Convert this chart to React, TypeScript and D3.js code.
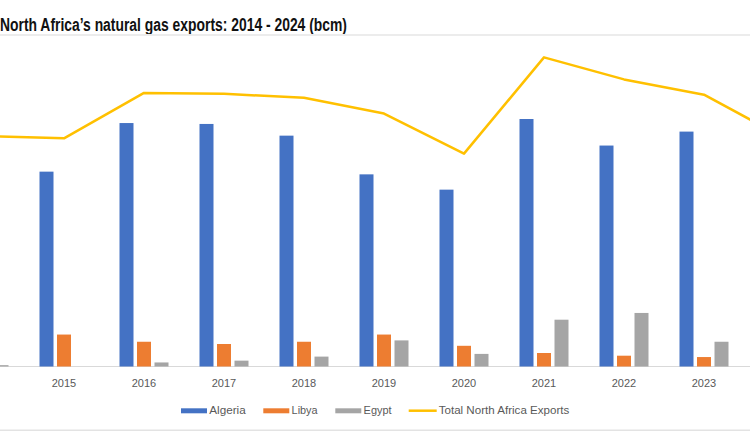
import React from "react";
import * as d3 from "d3";

const years = ["2014", "2015", "2016", "2017", "2018", "2019", "2020", "2021", "2022", "2023", "2024"];
const algeria = [44.4, 43.3, 54.1, 53.9, 51.3, 42.7, 39.3, 55.0, 49.1, 52.2, 46.8];
const libya = [6.5, 7.1, 5.5, 5.0, 5.5, 7.1, 4.6, 3.0, 2.4, 2.1, 1.8];
const egypt = [0.3, 0.0, 0.9, 1.3, 2.2, 5.8, 2.8, 10.4, 11.9, 5.5, 2.2];
const totals = [51.2, 50.7, 60.8, 60.6, 59.7, 56.2, 47.3, 68.7, 63.8, 60.4, 50.8];
const seriesNames = ["Algeria", "Libya", "Egypt"];
const lineName = "Total North Africa Exports";
const title = "North Africa\u2019s natural gas exports: 2014 - 2024 (bcm)";

const W = 750;
const H = 448;
const colors: Record<string, string> = {
  Algeria: "#4472C4",
  Libya: "#ED7D31",
  Egypt: "#A5A5A5",
};
const lineColor = "#FFC000";

export default function App() {
  const x = d3.scaleBand<string>().domain(years).range([-56, -56 + 80 * years.length]).padding(0);
  const xs = d3.scaleBand<string>().domain(seriesNames).range([15.5, 64.5]).paddingInner(0.2).paddingOuter(0);
  const y = d3.scaleLinear().domain([0, 80]).range([366.5, 6.5]);
  const seriesData: Record<string, number[]> = { Algeria: algeria, Libya: libya, Egypt: egypt };

  const line = d3
    .line<number>()
    .x((_, i) => (x(years[i]) as number) + x.bandwidth() / 2)
    .y((d) => y(d));

  const legendItems = [
    { name: "Algeria", x: 181, w: 36.4, kind: "bar" },
    { name: "Libya", x: 263.3, w: 26, kind: "bar" },
    { name: "Egypt", x: 335.3, w: 28, kind: "bar" },
    { name: lineName, x: 408.7, w: 130.6, kind: "line" },
  ];

  return (
    <svg
      width={W}
      height={H}
      style={{ position: "absolute", left: 0, top: 0, background: "#fff", overflow: "hidden" }}
    >
      <rect x={0} y={0} width={W} height={H} fill="#ffffff" />
      <text
        x={0}
        y={31}
        fontFamily="'Liberation Sans', Arial, sans-serif"
        fontWeight="bold"
        fontSize={18}
        fill="#111"
        textLength={347}
        lengthAdjust="spacingAndGlyphs"
      >
        {title}
      </text>
      <rect x={0} y={34} width={W} height={2} fill="#ececec" />

      <line x1={0} x2={W} y1={y(0)} y2={y(0)} stroke="#d9d9d9" strokeWidth={1} />

      {years.map((yr, i) => {
        const cx = (x(yr) as number) + x.bandwidth() / 2;
        const labelVisible = cx - 14 >= 0 && cx + 14 <= W;
        return (
          <g key={yr} transform={`translate(${x(yr)},0)`}>
            {seriesNames.map((s) => {
              const v = seriesData[s][i];
              return (
                <rect
                  key={s}
                  x={xs(s)}
                  y={y(v)}
                  width={xs.bandwidth()}
                  height={y(0) - y(v)}
                  fill={colors[s]}
                />
              );
            })}
            {labelVisible && (
              <text
                x={x.bandwidth() / 2}
                y={387}
                textAnchor="middle"
                fontFamily="'Liberation Sans', Arial, sans-serif"
                fontSize={11}
                fill="#595959"
              >
                {yr}
              </text>
            )}
          </g>
        );
      })}

      <path
        d={line(totals) || ""}
        fill="none"
        stroke={lineColor}
        strokeWidth={2.5}
        strokeLinejoin="round"
        strokeLinecap="round"
      />

      {legendItems.map((it) => (
        <g key={it.name}>
          {it.kind === "bar" ? (
            <rect x={it.x} y={408.3} width={26} height={5} fill={colors[it.name]} />
          ) : (
            <line x1={it.x} x2={it.x + 28} y1={410.7} y2={410.7} stroke={lineColor} strokeWidth={2.5} />
          )}
          <text
            x={it.x + (it.kind === "bar" ? 28.3 : 30)}
            y={414}
            fontFamily="'Liberation Sans', Arial, sans-serif"
            fontSize={10}
            fill="#595959"
            textLength={it.w}
            lengthAdjust="spacingAndGlyphs"
          >
            {it.name}
          </text>
        </g>
      ))}

      <rect x={0} y={429.5} width={W} height={1.5} fill="#e3e3e3" />
    </svg>
  );
}
